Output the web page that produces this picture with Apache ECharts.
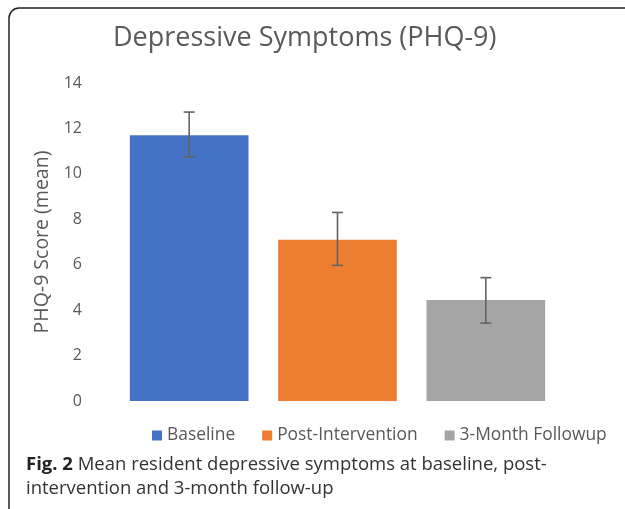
<!DOCTYPE html>
<html>
<head>
<meta charset="utf-8">
<script src="https://cdn.jsdelivr.net/npm/echarts@6/dist/echarts.min.js"></script>
<style>
html,body{margin:0;padding:0;background:#fff;}
#main{width:625px;height:509px;}
</style>
</head>
<body>
<div id="main"></div>
<script>
var categories = ['Baseline', 'Post-Intervention', '3-Month Followup'];
var seriesNames = ['Baseline', 'Post-Intervention', '3-Month Followup'];
var means = [11.7, 7.1, 4.45];
var errLow = [10.75, 5.97, 3.43];
var errHigh = [12.72, 8.3, 5.43];
var colors = ['#4472C4', '#ED7D31', '#A5A5A5'];
var yTicks = [0, 2, 4, 6, 8, 10, 12, 14];

var chart = echarts.init(document.getElementById('main'), null, {renderer: 'canvas'});
var fontFam = '"Open Sans", "Noto Sans", sans-serif';

var barSeries = seriesNames.map(function (name, i) {
  var d = categories.map(function (c, j) { return j === i ? means[i] : '-'; });
  return {
    name: name,
    type: 'bar',
    stack: 'all',
    barWidth: '80%',
    itemStyle: {color: colors[i]},
    data: d,
    silent: true
  };
});

var errData = categories.map(function (c, i) { return [i, errLow[i], errHigh[i]]; });

var option = {
  animation: false,
  backgroundColor: '#fff',
  title: {
    text: 'Depressive Symptoms (PHQ-9)',
    left: 108,
    top: 20,
    textStyle: {fontFamily: fontFam, fontSize: 27, fontWeight: 'normal', color: '#595959'}
  },
  legend: {
    data: seriesNames,
    left: 147,
    top: 422,
    itemWidth: 10,
    itemHeight: 10,
    itemGap: 27,
    icon: 'rect',
    textStyle: {fontFamily: fontFam, fontSize: 17.4, color: '#595959'}
  },
  grid: {left: 115, right: 65, top: 83, bottom: 108},
  xAxis: {
    type: 'category',
    data: categories,
    axisLine: {show: false},
    axisTick: {show: false},
    axisLabel: {show: false},
    splitLine: {show: false}
  },
  yAxis: {
    type: 'value',
    min: 0,
    max: 14,
    interval: 2,
    name: 'PHQ-9 Score (mean)',
    nameLocation: 'middle',
    nameGap: 62,
    nameTextStyle: {fontFamily: fontFam, fontSize: 19.5, color: '#595959'},
    axisLine: {show: false},
    axisTick: {show: false},
    splitLine: {show: false},
    axisLabel: {
      fontFamily: fontFam, fontSize: 16, color: '#595959', margin: 33,
      formatter: function (v) { return yTicks.indexOf(v) >= 0 ? String(v) : ''; }
    }
  },
  graphic: [
    {
      type: 'rect',
      shape: {x: 9, y: 8, width: 700, height: 700, r: 10},
      style: {fill: 'none', stroke: '#222', lineWidth: 1.5},
      silent: true
    },
    {
      type: 'text',
      left: 26,
      top: 453,
      style: {
        text: '{b|Fig. 2} Mean resident depressive symptoms at baseline, post-\nintervention and 3-month follow-up',
        fontFamily: fontFam,
        fontSize: 18.5,
        lineHeight: 24,
        fill: '#333',
        rich: {
          b: {fontFamily: fontFam, fontSize: 18.5, fontWeight: 'bold', fill: '#222', lineHeight: 24}
        }
      },
      silent: true
    }
  ],
  series: barSeries.concat([{
    type: 'custom',
    name: 'error',
    silent: true,
    z: 10,
    renderItem: function (params, api) {
      var x = api.value(0);
      var lo = api.coord([x, api.value(1)]);
      var hi = api.coord([x, api.value(2)]);
      var cap = 5.5;
      var st = {stroke: '#636363', lineWidth: 1.6};
      return {
        type: 'group',
        children: [
          {type: 'line', shape: {x1: hi[0], y1: hi[1], x2: lo[0], y2: lo[1]}, style: st},
          {type: 'line', shape: {x1: hi[0] - cap, y1: hi[1], x2: hi[0] + cap, y2: hi[1]}, style: st},
          {type: 'line', shape: {x1: lo[0] - cap, y1: lo[1], x2: lo[0] + cap, y2: lo[1]}, style: st}
        ]
      };
    },
    data: errData
  }])
};
chart.setOption(option);
</script>
</body>
</html>
